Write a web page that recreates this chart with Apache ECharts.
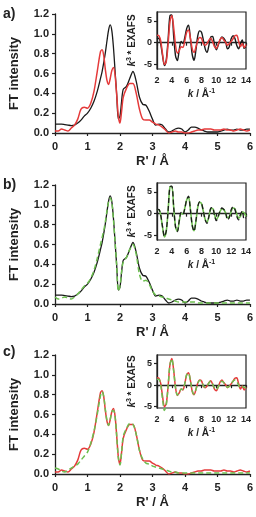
<!DOCTYPE html>
<html><head><meta charset="utf-8">
<script src="https://cdn.jsdelivr.net/npm/echarts@6/dist/echarts.min.js"></script>
<style>html,body{margin:0;padding:0;background:#fff}#c{width:256px;height:517px}</style>
</head><body><div id="c"></div>
<script>
// ---- FT (R-space) data ----
const rGrid = [0,0.1,0.2,0.3,0.4,0.5,0.6,0.7,0.8,0.9,1.0,1.1,1.2,1.3,1.4,
  1.45,1.5,1.55,1.6,1.65,1.7,1.75,1.8,1.85,1.9,1.95,2.0,2.05,
  2.1,2.2,2.3,2.4,2.5,2.6,2.7,2.8,2.9,3.0,3.1,3.2,3.3,3.4,3.5,3.6,3.7,3.8,3.9,4.0,
  4.1,4.2,4.3,4.4,4.5,4.6,4.7,4.8,4.9,5.0,5.1,5.2,5.3,5.4,5.5,5.6,5.7,5.8,5.9,6.0];
const ftBlack = [0.09,0.09,0.09,0.085,0.08,0.075,0.08,0.10,0.13,0.17,0.20,0.25,0.32,0.42,0.55,
  0.62,0.71,0.81,0.93,1.04,1.09,1.03,0.86,0.62,0.38,0.14,0.17,0.32,
  0.44,0.47,0.55,0.62,0.52,0.36,0.29,0.28,0.22,0.14,
  0.08,0.09,0.08,0.04,0.01,0.02,0.04,0.05,0.04,0.01,
  0.03,0.06,0.06,0.05,0.03,0.02,0.01,0.01,0.01,0.01,
  0.02,0.03,0.04,0.03,0.03,0.04,0.03,0.03,0.04,0.04];
const ftRed = [0.02,0.02,0.04,0.03,0.02,0.05,0.08,0.14,0.24,0.26,0.25,0.30,0.42,0.62,0.82,
  0.84,0.78,0.64,0.53,0.49,0.55,0.63,0.66,0.58,0.38,0.17,0.10,0.22,
  0.36,0.45,0.50,0.50,0.40,0.24,0.14,0.13,0.13,0.11,
  0.09,0.08,0.06,0.03,0.00,0.01,0.02,0.01,0.01,0.00,
  0.00,0.01,0.02,0.03,0.03,0.04,0.04,0.04,0.03,0.03,
  0.03,0.04,0.03,0.03,0.02,0.03,0.04,0.03,0.02,0.03];
const ftFitB = [0.07,0.05,0.06,0.07,0.06,0.05,0.07,0.10,0.14,0.18,0.21,0.26,0.34,0.46,0.60,
  0.67,0.74,0.83,0.94,1.03,1.07,1.02,0.85,0.62,0.38,0.13,0.18,0.33,
  0.42,0.47,0.55,0.60,0.50,0.30,0.23,0.24,0.20,0.13,
  0.09,0.08,0.07,0.06,0.05,0.04,0.03,0.02,0.02,0.02,
  0.02,0.02,0.02,0.01,0.01,0.01,0.01,0.01,0.01,0.01,
  0.01,0.01,0.01,0.01,0.01,0.01,0.01,0.01,0.01,0.01];
const ftFitC = [0.06,0.05,0.03,0.02,0.04,0.06,0.08,0.10,0.14,0.18,0.22,0.31,0.43,0.60,0.79,
  0.83,0.78,0.65,0.54,0.49,0.55,0.63,0.64,0.58,0.38,0.16,0.09,0.22,
  0.38,0.46,0.51,0.50,0.40,0.24,0.15,0.11,0.10,0.08,
  0.07,0.06,0.05,0.04,0.03,0.02,0.02,0.01,0.01,0.01,
  0.01,0.01,0.01,0.01,0.01,0.01,0.01,0.01,0.01,0.01,
  0.01,0.01,0.01,0.01,0.01,0.01,0.01,0.01,0.01,0.01];

// ---- EXAFS (k-space) data ----
const kGrid = [2,2.25,2.5,2.75,3,3.25,3.5,3.75,4,4.25,4.5,4.75,5,5.25,5.5,5.75,6,6.25,6.5,6.75,
  7,7.25,7.5,7.75,8,8.25,8.5,8.75,9,9.25,9.5,9.75,10,10.25,10.5,10.75,11,11.25,11.5,11.75,
  12,12.25,12.5,12.75,13,13.25,13.5,13.75,14];
const chiBlack = [0.8,1.0,-0.3,-3.0,-5.2,-3.9,0.8,6.2,6.3,1.5,-3.0,-4.1,-1.6,0.3,-0.2,1.2,3.2,4.0,1.0,-2.7,
  -4.0,-1.6,1.6,2.7,2.4,0.6,-1.4,-2.2,-0.6,1.3,1.4,-0.4,-1.6,-0.6,0.6,1.3,1.0,0.3,-1.4,-0.9,
  0.9,1.6,1.0,-0.6,-1.4,-0.2,0.6,-1.3,-0.9];
const chiRed = [1.7,1.6,0.4,-2.6,-5.0,-4.3,-0.2,4.8,6.2,3.4,-0.6,-2.4,-1.8,-0.9,-1.1,0.4,2.4,2.9,1.1,-1.4,
  -2.2,-1.0,0.5,1.2,1.0,-0.2,-0.6,-0.2,0.6,1.0,0.2,-0.9,-1.3,-0.4,0.7,1.2,0.6,0.1,-0.6,-0.2,
  0.3,0.9,1.6,1.7,0.4,-0.9,-0.2,-1.1,-0.4];
const chiFitB = [0.9,0.9,-0.4,-3.1,-5.3,-4.0,0.8,6.1,6.2,1.5,-3.0,-4.0,-1.7,0.1,-0.1,1.3,3.1,3.8,1.0,-2.6,
  -3.9,-1.7,1.5,2.6,2.3,0.5,-1.3,-1.9,-0.6,1.1,1.2,-0.2,-1.3,-0.7,0.5,1.1,1.0,0.1,-0.9,-0.7,
  0.5,1.3,1.1,-0.1,-1.0,-0.6,0.4,0.2,-0.6];
const chiFitC = [1.3,1.4,0.0,-3.3,-5.9,-4.6,-0.1,4.8,6.1,3.3,-0.6,-2.3,-1.8,-0.9,-1.0,0.4,2.4,2.8,1.1,-1.3,
  -2.1,-1.0,0.5,1.1,0.9,-0.1,-0.5,-0.2,0.5,0.9,0.3,-0.7,-1.0,-0.4,0.5,0.9,0.6,0.0,-0.5,-0.3,
  0.3,0.9,1.2,0.9,0.0,-0.6,-0.3,-0.5,-0.7];

const panelLabels = ['a)','b)','c)'];
const chiTicks = [-5,0,5];

const FONT = "'Liberation Sans', Arial, sans-serif";
const TXT = '#222';
const BLACK = '#1a1a1a', RED = '#e53a3a', GREEN = '#6cbf4f';

function pairs(xs, ys){ return xs.map((x,i)=>[x, ys[i]]); }

const mainTops = [14, 185, 355];
const insetTops = [12, 183, 355];
const insetHeights = [57, 57, 53];
const insetMins = [-6, -6, -5.3];

const grids = [], xAxes = [], yAxes = [], series = [], graphics = [];
const lbl = (sz) => ({fontFamily: FONT, fontWeight: 'bold', fontSize: sz, color: TXT});
const axLine = {show: true, lineStyle: {color: '#222', width: 1.3}};
const richName = {fontFamily: FONT, fontWeight: 'bold', fontSize: 10, color: TXT,
  rich: {i: {fontStyle: 'italic', fontWeight: 'bold', fontSize: 10, color: TXT, fontFamily: FONT, lineHeight: 13},
         n: {fontWeight: 'bold', fontSize: 10, color: TXT, fontFamily: FONT, lineHeight: 13},
         s: {fontWeight: 'bold', fontSize: 7, color: TXT, fontFamily: FONT, verticalAlign: 'top', lineHeight: 13}}};

for (let p = 0; p < 3; p++) {
  const gm = grids.length;
  grids.push({left: 54, width: 198, top: mainTops[p], height: 119, containLabel: false});
  xAxes.push({type: 'value', gridIndex: gm, min: 0, max: 6, interval: 1,
    axisLine: axLine, axisTick: {show: true, length: 3, inside: false, lineStyle: {color: '#222', width: 1.2}},
    axisLabel: Object.assign(lbl(11), {margin: 8}), splitLine: {show: false},
    name: "R' / Å", nameLocation: 'middle', nameGap: 22, nameTextStyle: lbl(13)});
  yAxes.push({type: 'value', gridIndex: gm, min: 0, max: 1.2, interval: 0.2,
    axisLine: axLine, axisTick: {show: true, length: 3, lineStyle: {color: '#222', width: 1.2}},
    axisLabel: Object.assign(lbl(11), {margin: 6, formatter: v => v.toFixed(1)}), splitLine: {show: false},
    name: 'FT intensity', nameLocation: 'middle', nameGap: 34, nameTextStyle: lbl(13)});

  const gi = grids.length;
  grids.push({left: 157, width: 89, top: insetTops[p], height: insetHeights[p], show: true,
    borderColor: '#222', borderWidth: 1.2, backgroundColor: 'transparent'});
  xAxes.push({type: 'value', gridIndex: gi, min: 2, max: 14, interval: 2,
    axisLine: axLine, axisTick: {show: true, length: 3, lineStyle: {color: '#222', width: 1.2}},
    axisLabel: Object.assign(lbl(9), {margin: 7}), splitLine: {show: false},
    name: '{i|k}{n| / Å}{s|-1}', nameLocation: 'middle', nameGap: 19, nameTextStyle: richName});
  yAxes.push({type: 'value', gridIndex: gi, min: insetMins[p], max: 7,
    axisLine: axLine,
    axisTick: {show: true, length: 3, customValues: chiTicks, lineStyle: {color: '#222', width: 1.2}},
    axisLabel: Object.assign(lbl(9), {margin: 5, customValues: chiTicks}), splitLine: {show: false},
    name: '{i|k}{s|3}{n| * EXAFS}', nameLocation: 'middle', nameGap: 18, nameTextStyle: richName});

  graphics.push({type: 'text', left: 3, top: mainTops[p] - 7 + (p === 2 ? -3 : 0),
    style: {text: panelLabels[p], font: "bold 14px 'Liberation Sans', Arial, sans-serif", fill: TXT}});
}

function line(gi, xs, ys, color, w, dashed, z, clip) {
  return {type: 'line', xAxisIndex: gi, yAxisIndex: gi, data: pairs(xs, ys), showSymbol: false,
    smooth: 0.3, z: z, clip: clip !== false, silent: true,
    lineStyle: {color: color, width: w, type: dashed ? [5, 3] : 'solid'}};
}
// panel a
series.push(line(0, rGrid, ftBlack, BLACK, 1.3, false, 2));
series.push(line(0, rGrid, ftRed, RED, 1.5, false, 3));
series.push(line(1, kGrid, chiBlack, BLACK, 1.4, false, 2));
series.push(line(1, kGrid, chiRed, RED, 1.5, false, 3));
// panel b
series.push(line(2, rGrid, ftBlack, BLACK, 1.3, false, 2));
series.push(line(2, rGrid, ftFitB, GREEN, 1.5, true, 3));
series.push(line(3, kGrid, chiFitB, GREEN, 1.6, false, 2));
series.push(line(3, kGrid, chiBlack, BLACK, 1.3, true, 3));
// panel c
series.push(line(4, rGrid, ftRed, RED, 1.5, false, 2));
series.push(line(4, rGrid, ftFitC, GREEN, 1.5, true, 3));
series.push(line(5, kGrid, chiRed, RED, 1.5, false, 2));
series.push(line(5, kGrid, chiFitC, GREEN, 1.5, true, 3, false));

const chart = echarts.init(document.getElementById('c'), null, {renderer: 'canvas'});
chart.setOption({animation: false, backgroundColor: '#fff',
  grid: grids, xAxis: xAxes, yAxis: yAxes, series: series, graphic: graphics});
</script></body></html>
